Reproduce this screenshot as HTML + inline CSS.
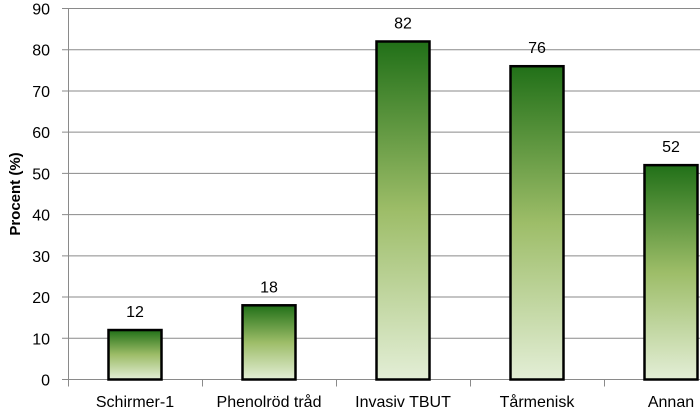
<!DOCTYPE html>
<html><head><meta charset="utf-8"><style>
body{margin:0;background:#fff}
svg text{font-family:"Liberation Sans",sans-serif;fill:#000}
</style></head><body>
<svg width="700" height="413">
<defs><linearGradient id="g" x1="0" y1="0" x2="0" y2="1">
<stop offset="0" stop-color="#217018"/><stop offset="0.5" stop-color="#9dbd68"/><stop offset="1" stop-color="#e3eed6"/>
</linearGradient></defs>
<g id="grid"></g><g id="bars"></g>
<text transform="translate(20,194) rotate(-90)" text-anchor="middle" font-size="15" font-weight="bold">Procent (%)</text>
</svg>
<script>
const categories=["Schirmer-1","Phenolröd tråd","Invasiv TBUT","Tårmenisk","Annan"];
const values=[12,18,82,76,52];
const yTicks=[0,10,20,30,40,50,60,70,80,90];
const NS="http://www.w3.org/2000/svg";
const x0=68,step=134,y0=379.5,yTop=8.5,ymax=90,bw=53;
const y=v=>y0-(y0-yTop)*v/ymax;
const xc=i=>x0+step*(i+0.5);
const grid=document.getElementById('grid'),bars=document.getElementById('bars');
function mk(tag,attrs,parent){const e=document.createElementNS(NS,tag);for(const k in attrs)e.setAttribute(k,attrs[k]);parent.appendChild(e);return e;}
yTicks.forEach(t=>{
 const l=mk('line',{x1:62,x2:700,y1:y(t),y2:y(t),stroke:'#8a8a8a','stroke-width':1},grid);
 
 
 const tx=mk('text',{x:50,y:y(t)+6,'text-anchor':'end','font-size':16},grid);
 tx.textContent=t;
 
 
});
const ax=mk('line',{x1:x0+0.5,x2:x0+0.5,y1:yTop,y2:y0+7,stroke:'#8a8a8a'},grid);


for(let i=1;i<=categories.length;i++){
 const tk=mk('line',{x1:x0+step*i+0.5,x2:x0+step*i+0.5,y1:y0,y2:y0+7,stroke:'#8a8a8a'},grid);
 
 
}
categories.forEach((c,i)=>{
 const r=mk('rect',{x:xc(i)-bw/2,y:y(values[i]),width:bw,height:y0-y(values[i]),fill:'url(#g)',stroke:'#000','stroke-width':2.5},bars);
 
 
 const v=mk('text',{x:xc(i),y:y(values[i])-13,'text-anchor':'middle','font-size':16},bars);
 v.textContent=values[i];
 
 
 const l=mk('text',{x:xc(i),y:407,'text-anchor':'middle','font-size':16},bars);
 l.textContent=c;
 
 
});
</script>
</body></html>
